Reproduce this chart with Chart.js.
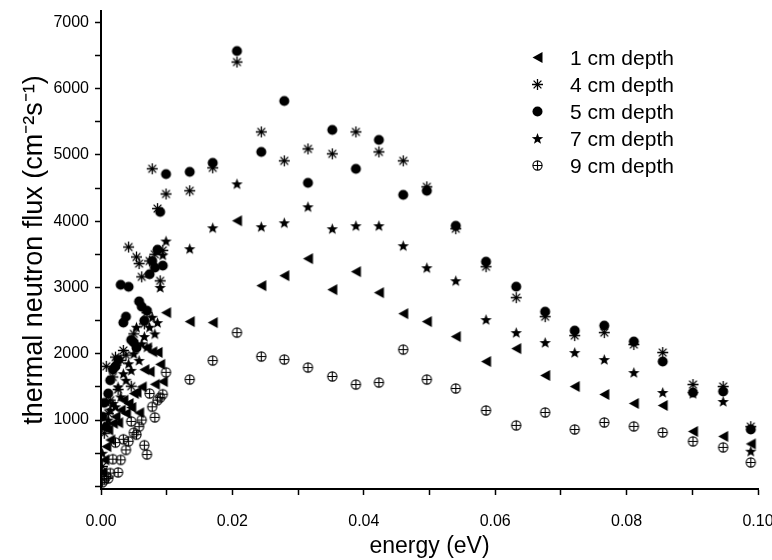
<!DOCTYPE html>
<html>
<head>
<meta charset="utf-8">
<script src="https://cdn.jsdelivr.net/npm/chart.js@4"></script>
<style>
  body { margin: 0; background: #fff; }
  #wrap { position: relative; width: 772px; height: 560px; }
  #legend { position: absolute; left: 531px; top: 44px; font-family: 'Liberation Sans', Arial, sans-serif; font-size: 21px; color: #000; }
  #legend div { height: 27px; display: flex; align-items: center; }
  #legend img { width: 13px; height: 13px; margin-right: 26px; }
</style>
</head>
<body>
<div id="wrap">
  <canvas id="grafico"></canvas>
  <div id="legend"></div>
</div>
<script>
// energias (eV) comunes a todas las series
let energy = [0.0002, 0.0005, 0.0008, 0.0011, 0.0014, 0.0018, 0.0022, 0.0026, 0.0030, 0.0034,
    0.0038, 0.0042, 0.0046, 0.0050, 0.0054, 0.0058, 0.0062, 0.0066, 0.0070, 0.0074,
    0.0078, 0.0082, 0.0086, 0.0090, 0.0094, 0.0099,
    0.0135, 0.0170, 0.0207, 0.0244, 0.0279, 0.0315, 0.0352, 0.0388, 0.0423, 0.0460,
    0.0496, 0.0540, 0.0586, 0.0632, 0.0676, 0.0721, 0.0766, 0.0811, 0.0855, 0.0901,
    0.0947, 0.0989];

let depth1 = [210, 400, 600, 850, 700, 950, 1050, 960, 1150, 1300,
    1100, 1250, 1190, 1400, 1420, 1110, 1500, 1760, 2090, 1730,
    2030, 1540, 2020, 1840, 1580, 2620,
    2485, 2470, 4006, 3027, 3178, 3434, 2967, 3238, 2922, 2605,
    2485, 2259, 1883, 2078, 1672, 1506, 1386, 1250, 1220, 828,
    753, 640];

let depth4 = [300, 800, 1810, 1100, 1300, 1650, 1950, 1460, 1900, 2050,
    1980, 3610, 1510, 2300, 3460, 3360, 3160, 2450, 2620, 3400,
    4790, 3500, 4190, 3100, 3560, 4410,
    4458, 4804, 6400, 5346, 4910, 5090, 5015, 5346, 5045, 4910,
    4518, 3886, 3313, 2846, 2560, 2274, 2319, 2139, 2018, 1536,
    1506, 900];

let depth5 = [1050, 1260, 900, 1400, 1600, 1760, 1810, 1910, 3040, 2470,
    2560, 3010, 2210, 2170, 2090, 2790, 2710, 2500, 2650, 3200,
    3400, 3300, 3570, 4140, 3330, 4710,
    4744, 4880, 6566, 5045, 5813, 4578, 5376, 4789, 5226, 4397,
    4458, 3930, 3389, 3012, 2635, 2349, 2425, 2184, 1883, 1416,
    1431, 858];

let depth7 = [500, 900, 1280, 1000, 1150, 1250, 1200, 1500, 1350, 1700,
    1600, 1850, 1750, 2000, 2400, 1900, 2150, 2260, 2100, 2400,
    2550, 2300, 2470, 3000, 3490, 3700,
    3584, 3900, 4563, 3916, 3976, 4217, 3886, 3931, 3931, 3630,
    3298, 3102, 2515, 2319, 2169, 2018, 1913, 1717, 1416, 1400,
    1280, 530];

let depth9 = [60, 100, 150, 120, 200, 410, 660, 210, 400, 710,
    550, 680, 980, 810, 780, 900, 1000, 620, 480, 1400,
    1200, 1040, 1300, 1340, 1390, 1720,
    1611, 1898, 2319, 1958, 1913, 1792, 1657, 1536, 1566, 2063,
    1611, 1476, 1145, 919, 1114, 858, 964, 904, 813, 678,
    587, 360];

let etiquetas = ['1 cm depth', '4 cm depth', '5 cm depth', '7 cm depth', '9 cm depth'];

// marcas del eje y (las de 500 sin texto)
let yTicks = [0, 500, 1000, 1500, 2000, 2500, 3000, 3500, 4000, 4500, 5000, 5500, 6000, 6500, 7000];
let yLabels = ['', '', '1000', '', '2000', '', '3000', '', '4000', '', '5000', '', '6000', '', '7000'];

// marcadores dibujados a mano
function marcador(tipo) {
    let c = document.createElement('canvas');
    c.width = 13; c.height = 13;
    let g = c.getContext('2d');
    let m = 6.5;
    g.fillStyle = '#000';
    g.strokeStyle = '#000';
    if (tipo === 'tri') {
        g.beginPath();
        g.moveTo(1.5, m); g.lineTo(11.5, 1); g.lineTo(11.5, 12); g.closePath();
        g.fill();
    } else if (tipo === 'ast') {
        g.lineWidth = 1.3;
        g.beginPath();
        for (let i = 0; i < 4; i++) {
            let a = i * Math.PI / 4;
            g.moveTo(m + 5.5 * Math.cos(a), m + 5.5 * Math.sin(a));
            g.lineTo(m - 5.5 * Math.cos(a), m - 5.5 * Math.sin(a));
        }
        g.stroke();
    } else if (tipo === 'circ') {
        g.beginPath(); g.arc(m, m, 5, 0, Math.PI * 2); g.fill();
    } else if (tipo === 'star') {
        g.beginPath();
        for (let i = 0; i < 10; i++) {
            let r = i % 2 === 0 ? 6 : 2.5;
            let a = -Math.PI / 2 + i * Math.PI / 5;
            let px = m + r * Math.cos(a), py = m + 0.5 + r * Math.sin(a);
            if (i === 0) g.moveTo(px, py); else g.lineTo(px, py);
        }
        g.closePath(); g.fill();
    } else {
        g.lineWidth = 1.1;
        g.beginPath(); g.arc(m, m, 4.6, 0, Math.PI * 2); g.stroke();
        g.beginPath();
        g.moveTo(m, m - 4.6); g.lineTo(m, m + 4.6);
        g.moveTo(m - 4.6, m); g.lineTo(m + 4.6, m);
        g.stroke();
    }
    return c;
}

let tipos = ['tri', 'ast', 'circ', 'star', 'oplus'];
let series = [depth1, depth4, depth5, depth7, depth9];
let simbolos = tipos.map(marcador);

let datos = {
    datasets: series.map((s, k) => ({
        label: etiquetas[k],
        data: energy.map((x, i) => ({x: x, y: s[i]})),
        showLine: false,
        pointStyle: simbolos[k],
        pointRadius: 6,
        backgroundColor: '#000',
        borderColor: '#000'
    })).reverse()
};

let familia = "'Liberation Sans', Arial, sans-serif";
let fuente = {family: familia, size: 16};

let opciones = {
    responsive: true,
    maintainAspectRatio: false,
    animation: false,
    layout: {padding: {top: 11, right: 14, bottom: 0, left: 0}},
    plugins: {legend: {display: false}, tooltip: {enabled: false}},
    scales: {
        x: {
            type: 'linear', min: 0, max: 0.1,
            border: {color: '#000', width: 2},
            grid: {drawOnChartArea: false, color: '#000', tickLength: 6, tickWidth: 1.5},
            ticks: {
                stepSize: 0.01, color: '#000', padding: 17, maxRotation: 0, autoSkip: false, font: fuente,
                callback: v => Math.round(v * 100) % 2 === 0 ? v.toFixed(2) : ''
            },
            title: {display: true, text: 'energy (eV)', color: '#000',
                font: {family: familia, size: 23}, padding: {top: 0, bottom: 0}},
            afterFit: s => { s.height = 71; s.paddingLeft = 0; s.paddingRight = 0; }
        },
        y: {
            min: -40, max: 7170,
            border: {color: '#000', width: 2},
            grid: {drawOnChartArea: false, color: '#000', tickLength: 6, tickWidth: 1.5},
            afterBuildTicks: s => { s.ticks = yTicks.map(v => ({value: v})); },
            ticks: {
                autoSkip: false, color: '#000', padding: 6, font: fuente,
                callback: (v, i) => yLabels[i]
            },
            title: {display: true, text: 'thermal neutron flux (cm⁻²s⁻¹)', color: '#000',
                font: {family: familia, size: 27}, padding: {top: 18, bottom: 0}},
            afterFit: s => { s.width = 101; s.paddingTop = 0; s.paddingBottom = 0; }
        }
    }
};

let grafico = new Chart(document.getElementById('grafico'), {
    type: 'scatter',
    data: datos,
    options: opciones
});

// leyenda dentro del area
let leyenda = document.getElementById('legend');
etiquetas.forEach((t, k) => {
    let fila = document.createElement('div');
    let img = document.createElement('img');
    img.src = simbolos[k].toDataURL();
    let txt = document.createElement('span');
    txt.textContent = t;
    fila.appendChild(img);
    fila.appendChild(txt);
    leyenda.appendChild(fila);
});
</script>
</body>
</html>
